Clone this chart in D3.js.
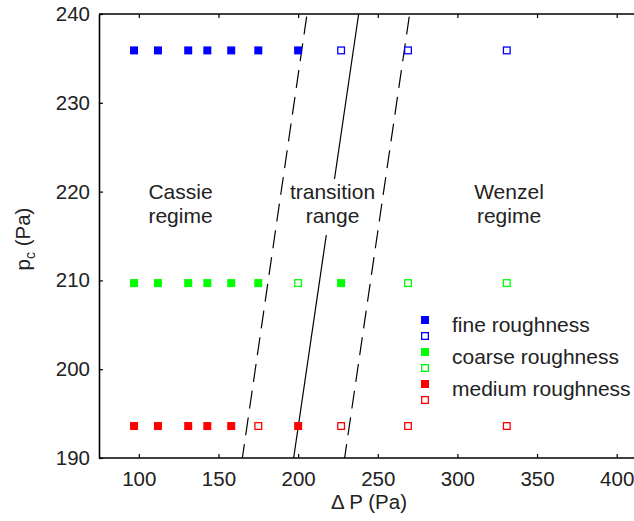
<!DOCTYPE html>
<html><head><meta charset="utf-8">
<script src="https://cdn.jsdelivr.net/npm/d3@7"></script>
<style>html,body{margin:0;padding:0;background:#fff}svg{display:block}</style>
</head><body>
<svg id="c" width="634" height="521"></svg>
<script>
// ---- data ----
const deltaP = [97, 112, 131, 143, 158, 175, 200, 227, 269, 331];
const seriesNames = ["fine roughness", "coarse roughness", "medium roughness"];
const seriesColors = ["#0000ff", "#00ff00", "#ff0000"];
const seriesPc = [235.9, 209.7, 193.6];
// 1 = filled (Cassie state), 0 = open (Wenzel state)
const fineFilled   = [1, 1, 1, 1, 1, 1, 1, 0, 0, 0];
const coarseFilled = [1, 1, 1, 1, 1, 1, 0, 1, 0, 0];
const mediumFilled = [1, 1, 1, 1, 1, 0, 1, 0, 0, 0];
const filledFlags = [fineFilled, coarseFilled, mediumFilled];
const boundaryLeft  = [[165.0, 190], [205.6, 240]];
const boundaryMid   = [[197.2, 190], [238.0, 240]];
const boundaryRight = [[229.2, 190], [270.0, 240]];
const xTicks = [100, 150, 200, 250, 300, 350, 400];
const yTicks = [190, 200, 210, 220, 230, 240];
const regionLabels = [
  {x: 180.5, lines: ["Cassie", "regime"]},
  {x: 332.5, lines: ["transition", "range"], bg: true},
  {x: 509, lines: ["Wenzel", "regime"]}
];

// ---- layout ----
const svg = d3.select("#c");
const FONT = "'Liberation Sans', Arial, Helvetica, sans-serif";
const TXT = "#222";
const FS = 20.5;
const x0 = 99, y0 = 14, yB = 458;
const x = d3.scaleLinear().domain([75, 400]).range([x0, 616.7]);
const y = d3.scaleLinear().domain([190, 240]).range([yB, y0]);
const xRightEnd = 660;

const g = svg.append("g");

// boundary lines
const line = d3.line().x(d => x(d[0])).y(d => y(d[1]));
[[boundaryLeft, "18,9"], [boundaryMid, null], [boundaryRight, "18,9"]].forEach(([d, dash]) => {
  const p = g.append("path").attr("d", line(d)).attr("fill", "none")
    .attr("stroke", "#000").attr("stroke-width", 1.2);
  if (dash) p.attr("stroke-dasharray", dash).attr("stroke-dashoffset", 4);
});

// region labels
regionLabels.forEach(r => {
  const tx = r.x;
  if (r.bg) {
    g.append("rect").attr("x", tx - 44).attr("y", 179).attr("width", 88).attr("height", 56).attr("fill", "#fff");
  }
  const t = g.append("text").attr("x", tx).attr("text-anchor", "middle")
    .attr("font-family", FONT).attr("font-size", 21).attr("fill", TXT);
  r.lines.forEach((s, i) => t.append("tspan").attr("x", tx).attr("y", 199 + i * 24).text(s));
});

// markers
const MS = 8;
seriesPc.forEach((pc, si) => {
  deltaP.forEach((dp, i) => {
    const filled = filledFlags[si][i] === 1;
    const cx = x(dp), cy = y(pc);
    if (filled) {
      g.append("rect").attr("x", cx - MS/2).attr("y", cy - MS/2).attr("width", MS).attr("height", MS)
        .attr("fill", seriesColors[si]);
    } else {
      g.append("rect").attr("x", cx - MS/2 + 0.65).attr("y", cy - MS/2 + 0.65).attr("width", MS - 1.3).attr("height", MS - 1.3)
        .attr("fill", "#fff").attr("stroke", seriesColors[si]).attr("stroke-width", 1.3);
    }
  });
});

// axes
const axisG = svg.append("g");
axisG.append("g").attr("transform", `translate(${x0},0)`)
  .call(d3.axisLeft(y).tickValues(yTicks).tickSizeInner(-4).tickSizeOuter(0).tickPadding(9))
  .call(a => a.select(".domain").attr("stroke-width", 1.6))
  .call(a => a.selectAll(".tick line").attr("stroke-width", 1.2))
  .call(a => a.selectAll("text").attr("font-family", FONT).attr("font-size", FS).attr("fill", TXT));
axisG.append("g").attr("transform", `translate(0,${yB})`)
  .call(d3.axisBottom(x).tickValues(xTicks).tickSizeInner(-4).tickSizeOuter(0).tickPadding(13))
  .call(a => a.select(".domain").attr("d", `M${x0},0H${xRightEnd}`).attr("stroke-width", 1.6))
  .call(a => a.selectAll(".tick line").attr("stroke-width", 1.2))
  .call(a => a.selectAll("text").attr("font-family", FONT).attr("font-size", FS).attr("fill", TXT));
axisG.append("g").attr("transform", `translate(0,${y0})`)
  .call(d3.axisTop(x).tickValues(xTicks).tickSizeInner(-4).tickSizeOuter(0).tickFormat(""))
  .call(a => a.select(".domain").attr("d", `M${x0},0H${xRightEnd}`).attr("stroke-width", 1.6))
  .call(a => a.selectAll(".tick line").attr("stroke-width", 1.2));

// axis titles
svg.append("text").attr("x", 369).attr("y", 509).attr("text-anchor", "middle")
  .attr("font-family", FONT).attr("font-size", FS).attr("fill", TXT).text("\u0394 P (Pa)");
const yl = svg.append("text").attr("transform", "translate(30,239) rotate(-90)").attr("text-anchor", "middle")
  .attr("font-family", FONT).attr("font-size", FS).attr("fill", TXT);
yl.append("tspan").text("p");
yl.append("tspan").attr("font-size", 14).attr("dy", 5).text("c");
yl.append("tspan").attr("dy", -5).text(" (Pa)");

// legend
const lg = svg.append("g");
seriesNames.forEach((name, si) => {
  const by = 320 + si * 32;
  lg.append("rect").attr("x", 425 - MS/2).attr("y", by - MS/2).attr("width", MS).attr("height", MS).attr("fill", seriesColors[si]);
  lg.append("rect").attr("x", 425 - MS/2 + 0.65).attr("y", by + 16 - MS/2 + 0.65).attr("width", MS - 1.3).attr("height", MS - 1.3)
    .attr("fill", "#fff").attr("stroke", seriesColors[si]).attr("stroke-width", 1.3);
  lg.append("text").attr("x", 452).attr("y", by + 12).attr("font-family", FONT).attr("font-size", 21)
    .attr("fill", TXT).text(name);
});
</script>
</body></html>
